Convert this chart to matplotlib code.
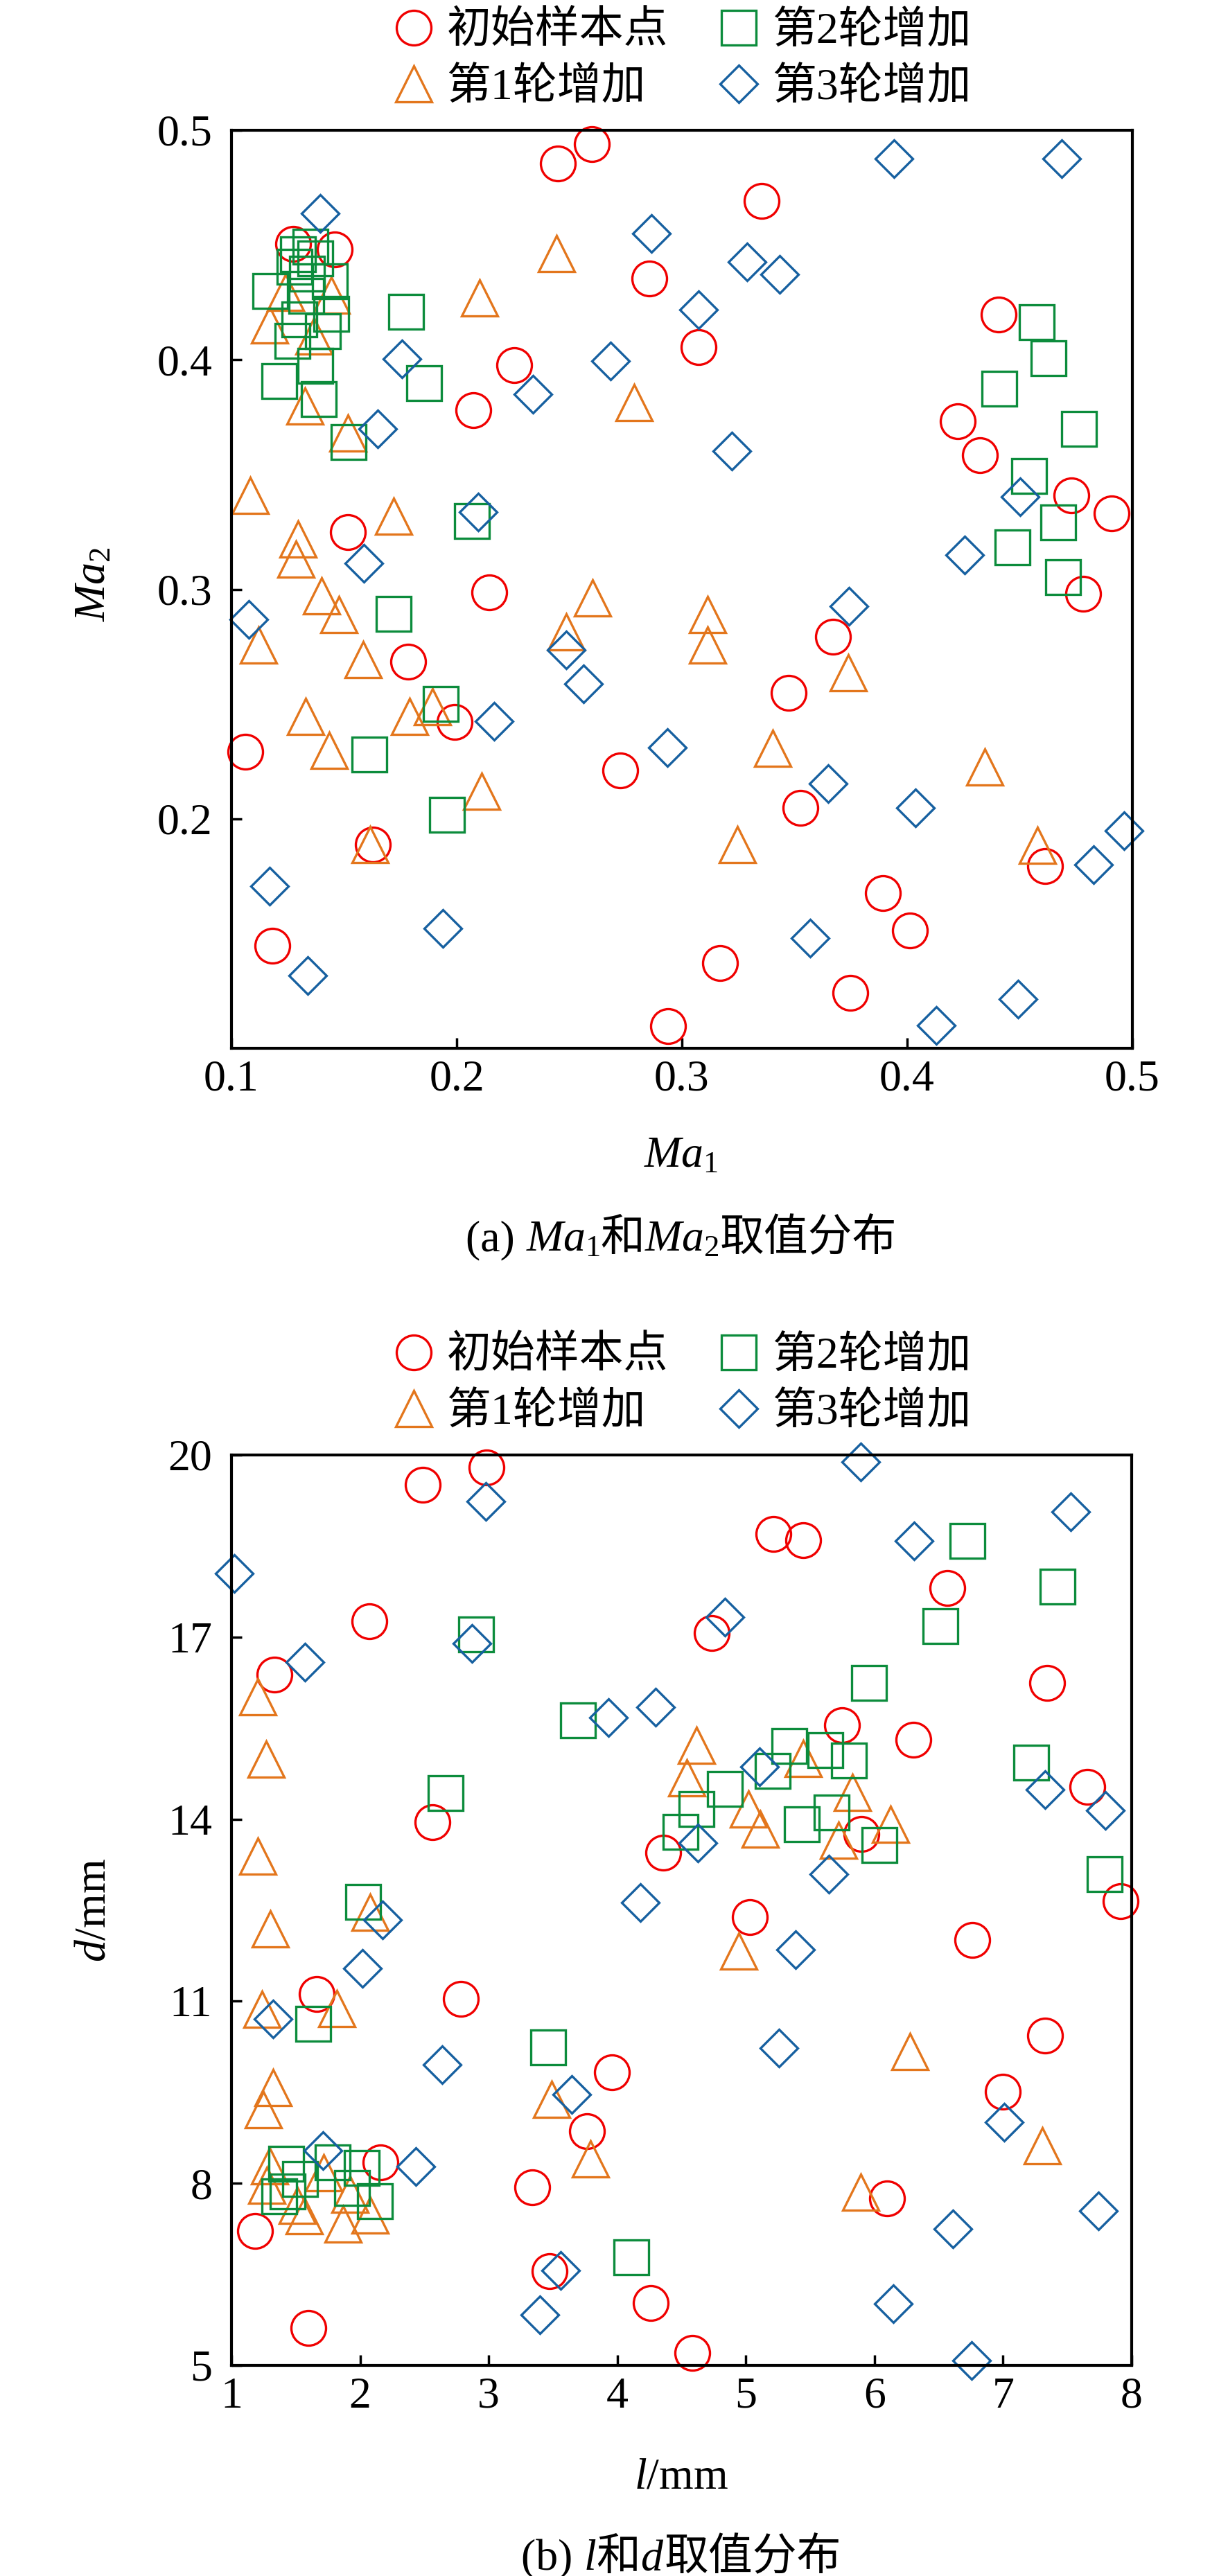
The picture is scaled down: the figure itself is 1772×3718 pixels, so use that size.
import matplotlib
matplotlib.use('Agg')
import matplotlib.pyplot as plt
from matplotlib.offsetbox import TextArea, HPacker, AnnotationBbox

plt.rcParams['font.family'] = ['Liberation Serif', 'Noto Sans CJK SC']
plt.rcParams['mathtext.fontset'] = 'custom'
plt.rcParams['mathtext.rm'] = 'Liberation Serif'
plt.rcParams['mathtext.it'] = 'Liberation Serif:italic'

labels = ['初始样本点', '第1轮增加', '第2轮增加', '第3轮增加']

# (a) Ma1 / Ma2
a_init_x = [0.245, 0.260, 0.1275, 0.1459, 0.2855, 0.3075, 0.2256, 0.2074, 0.1518, 0.2145, 0.1784,
            0.1060, 0.1991, 0.1629, 0.1180, 0.2726, 0.2938, 0.3354, 0.4406, 0.4226, 0.4324, 0.4729,
            0.4908, 0.4783, 0.3672, 0.3475, 0.3527, 0.4612, 0.3893, 0.4011, 0.3170, 0.3748]
a_init_y = [0.4854, 0.4939, 0.4505, 0.448, 0.4353, 0.4054, 0.3976, 0.3779, 0.3248, 0.2986, 0.2685,
            0.2292, 0.2423, 0.1889, 0.1446, 0.2211, 0.1096, 0.4693, 0.4196, 0.3731, 0.3585, 0.3410,
            0.3330, 0.298, 0.2794, 0.255, 0.2049, 0.1794, 0.1676, 0.1512, 0.1372, 0.1243]
a_r1_x = [0.2443, 0.2101, 0.2787, 0.1083, 0.172, 0.1294, 0.1286, 0.1444, 0.117, 0.1239, 0.1367,
          0.1326, 0.1516, 0.14, 0.1478, 0.1119, 0.1585, 0.1328, 0.1435, 0.1792, 0.1892, 0.2112,
          0.1615, 0.2487, 0.2602, 0.3114, 0.3114, 0.3738, 0.3404, 0.4346, 0.3246, 0.4578]
a_r1_y = [0.4463, 0.4269, 0.3814, 0.3408, 0.3318, 0.3218, 0.3131, 0.4282, 0.4151, 0.4294, 0.4102,
          0.3797, 0.3682, 0.297, 0.2889, 0.2756, 0.2694, 0.2445, 0.2297, 0.2445, 0.2488, 0.2119,
          0.1889, 0.2813, 0.2961, 0.2891, 0.2756, 0.2636, 0.2307, 0.2226, 0.1889, 0.1884]
a_r2_x = [0.1352, 0.1295, 0.1372, 0.128, 0.1336, 0.1436, 0.1172, 0.1331, 0.1444, 0.13, 0.1406,
          0.127, 0.1372, 0.1213, 0.1388, 0.1519, 0.1774, 0.1855, 0.2069, 0.1721, 0.1929, 0.1611,
          0.1958, 0.4574, 0.4628, 0.4409, 0.4762, 0.4541, 0.4671, 0.4469, 0.4691]
a_r2_y = [0.4493, 0.446, 0.4442, 0.4405, 0.4374, 0.4342, 0.43, 0.4279, 0.42, 0.4176, 0.4126,
          0.4082, 0.3975, 0.3906, 0.383, 0.3642, 0.4209, 0.3897, 0.3297, 0.2892, 0.2501, 0.2281,
          0.2017, 0.4163, 0.4006, 0.3875, 0.3698, 0.3495, 0.3292, 0.3183, 0.3052]
a_r3_x = [0.1395, 0.2866, 0.3075, 0.1758, 0.2684, 0.2338, 0.1648, 0.2096, 0.1589, 0.394, 0.4685,
          0.3288, 0.3434, 0.322, 0.45, 0.4254, 0.1076, 0.2487, 0.2564, 0.2165, 0.2936, 0.1169,
          0.1937, 0.1337, 0.3742, 0.3649, 0.4036, 0.4964, 0.4829, 0.3568, 0.4491, 0.4129]
a_r3_y = [0.4638, 0.4549, 0.4218, 0.4005, 0.3995, 0.3849, 0.37, 0.3336, 0.3113, 0.4876, 0.4876,
          0.4425, 0.4373, 0.3602, 0.3402, 0.315, 0.2868, 0.2737, 0.2587, 0.2425, 0.2311, 0.1705,
          0.1521, 0.1317, 0.2925, 0.2154, 0.2047, 0.1947, 0.18, 0.1479, 0.1213, 0.1099]

# (b) l / d
b_init_x = [2.487, 2.983, 2.073, 1.335, 2.563, 4.356, 4.737, 5.216, 5.446, 6.564, 7.342, 5.750,
            6.301, 7.653, 5.90, 7.916, 5.032, 6.759, 7.324, 6.995, 6.098, 4.582, 1.663, 2.782,
            3.957, 3.766, 2.158, 3.34, 1.181, 3.473, 4.261, 1.596]
b_init_y = [19.51, 19.80, 17.26, 16.38, 13.95, 13.45, 17.07, 18.70, 18.60, 17.81, 16.24, 15.55,
            15.31, 14.53, 13.76, 12.65, 12.39, 12.01, 10.43, 9.51, 7.75, 5.21, 11.12, 11.04,
            9.83, 8.86, 8.34, 7.93, 7.22, 6.55, 6.03, 5.62]
b_r1_x = [1.204, 1.271, 1.204, 1.301, 1.239, 1.819, 1.324, 1.248, 3.49, 3.794, 2.08, 1.298,
          1.275, 1.514, 1.568, 1.715, 1.868, 1.922, 2.08, 4.617, 4.54, 5.444, 5.018, 5.111,
          5.83, 5.722, 6.127, 4.947, 6.273, 7.306, 5.891]
b_r1_y = [16.02, 14.99, 13.39, 12.19, 10.87, 10.88, 9.58, 9.21, 9.38, 8.40, 12.47, 8.29,
          7.97, 7.64, 7.47, 8.17, 7.33, 7.82, 7.48, 15.22, 14.68, 15.0, 14.17, 13.84,
          14.44, 13.65, 13.91, 11.83, 10.17, 8.62, 7.85]
b_r2_x = [2.902, 3.697, 2.665, 2.022, 6.725, 7.421, 6.513, 5.955, 5.338, 5.619, 5.803, 7.216,
          5.209, 4.836, 4.617, 4.49, 5.435, 5.665, 6.038, 7.791, 1.635, 3.46, 4.112, 1.428,
          1.535, 1.374, 1.437, 1.787, 2.012, 1.94, 2.114]
b_r2_y = [17.04, 15.63, 14.43, 12.64, 18.58, 17.83, 17.18, 16.24, 15.21, 15.14, 14.97, 14.93,
          14.79, 14.50, 14.17, 13.79, 13.91, 14.11, 13.57, 13.09, 10.63, 10.24, 6.78, 8.32,
          8.07, 7.79, 7.87, 8.34, 8.25, 7.92, 7.71]
b_r3_x = [1.02, 2.976, 2.872, 1.570, 3.929, 4.30, 4.18, 5.891, 7.525, 6.306, 4.836, 5.106,
          7.329, 7.796, 4.629, 5.647, 2.176, 2.02, 1.324, 2.637, 3.644, 1.711, 2.434, 3.559,
          3.397, 5.384, 5.258, 7.008, 6.61, 7.743, 6.144, 6.755]
b_r3_y = [18.05, 19.23, 16.89, 16.59, 15.67, 15.85, 12.63, 19.89, 19.06, 18.59, 17.33, 14.86,
          14.49, 14.14, 13.61, 13.09, 12.34, 11.54, 10.71, 9.96, 9.46, 8.54, 8.28, 6.56,
          5.83, 11.85, 10.23, 9.01, 7.25, 7.54, 6.02, 5.08]

W, H = 1772, 3718
FS = 46
styles = [('o', 36, '#F00000'), ('^', 37, '#E3761C'), ('s', 36, '#0C8C3C'), ('D', 27, '#1660A0')]

fig = plt.figure(figsize=(W / 100, H / 100), dpi=100)


def px_box(left, top, right, bottom):
    return [left / W, 1 - bottom / H, (right - left) / W, (bottom - top) / H]


def panel(box, data, xlim, ylim, xticks, yticks, xfmt, yfmt, legend_y):
    ax = fig.add_axes(box)
    handles = []
    for (x, y), (m, ms, c) in zip(data, styles):
        h, = ax.plot(x, y, ls='none', marker=m, ms=ms, mfc='none', mec=c, mew=2.4, clip_on=False)
        handles.append(h)
    ax.set_xlim(xlim)
    ax.set_ylim(ylim)
    ax.set_xticks(xticks)
    ax.set_yticks(yticks)
    ax.set_xticklabels([xfmt.format(v) for v in xticks])
    ax.set_yticklabels([yfmt.format(v) for v in yticks])
    for s in ax.spines.values():
        s.set_linewidth(3)
    ax.tick_params(direction='in', length=11, width=2.5, labelsize=FS, top=False, right=False)
    ax.tick_params(axis='x', pad=12)
    ax.tick_params(axis='y', pad=20)
    ax.legend(handles, labels, loc='center', bbox_to_anchor=(983 / W, 1 - legend_y / H),
              bbox_transform=fig.transFigure, ncol=2, frameon=False, fontsize=FS,
              handlelength=1.0, handletextpad=0.25, columnspacing=1.1, labelspacing=0.35,
              borderpad=0, numpoints=1)
    return ax


def caption(parts, y):
    kids = [TextArea(s, textprops=dict(size=FS, family=fam)) for s, fam in parts]
    box = HPacker(children=kids, align='baseline', pad=0, sep=0)
    ab = AnnotationBbox(box, (983 / W, 1 - y / H), xycoords='figure fraction',
                        frameon=False, box_alignment=(0.5, 0.5))
    fig.add_artist(ab)


SERIF = ['Liberation Serif']
CJK = ['Noto Sans CJK SC']

# panel (a)
panel(px_box(334, 188, 1634, 1513),
      [(a_init_x, a_init_y), (a_r1_x, a_r1_y), (a_r2_x, a_r2_y), (a_r3_x, a_r3_y)],
      (0.1, 0.5), (0.1, 0.5), [0.1, 0.2, 0.3, 0.4, 0.5], [0.2, 0.3, 0.4, 0.5],
      '{:.1f}', '{:.1f}', 87)
fig.text(983 / W, 1 - 1669 / H, r'$\mathit{Ma}_1$', fontsize=FS, ha='center', va='center')
fig.text(136 / W, 1 - 843 / H, r'$\mathit{Ma}_2$', fontsize=FS, ha='center', va='center',
         rotation=90)
caption([('(a) ', SERIF), (r'$\mathit{Ma}_1$', SERIF), ('和', CJK), (r'$\mathit{Ma}_2$', SERIF),
         ('取值分布', CJK)], 1787)

# panel (b)
panel(px_box(334, 2100, 1633, 3414),
      [(b_init_x, b_init_y), (b_r1_x, b_r1_y), (b_r2_x, b_r2_y), (b_r3_x, b_r3_y)],
      (1, 8), (5, 20), [1, 2, 3, 4, 5, 6, 7, 8], [5, 8, 11, 14, 17, 20],
      '{:d}', '{:d}', 1999)
fig.text(983 / W, 1 - 3577 / H, r'$\mathit{l}$/mm', fontsize=FS, ha='center', va='center')
fig.text(136 / W, 1 - 2757 / H, r'$\mathit{d}$/mm', fontsize=FS, ha='center', va='center',
         rotation=90)
caption([('(b) ', SERIF), (r'$\mathit{l}$', SERIF), ('和', CJK), (r'$\mathit{d}$', SERIF),
         ('取值分布', CJK)], 3691)

fig.savefig('out.png', dpi=100)
plt.close(fig)
